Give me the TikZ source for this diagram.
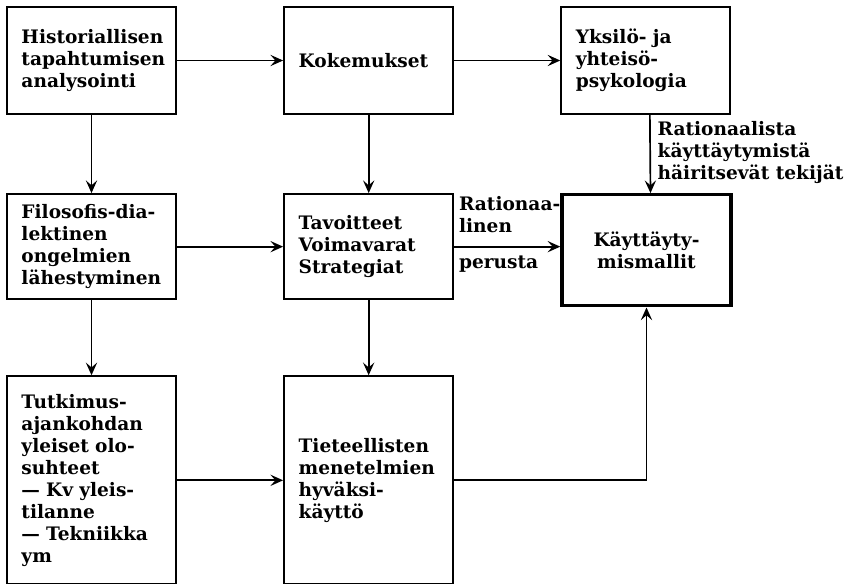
\documentclass[tikz,border=0pt]{standalone}
\usepackage{fontspec}
\setmainfont{DejaVu Serif}
\usetikzlibrary{positioning}
\usetikzlibrary{arrows.meta}

\begin{document}
\begin{tikzpicture}[x=0.025cm, y=-0.025cm,
  txt/.style={font=\bfseries\fontsize{13.2}{15.6}\selectfont},
  box/.style={txt, draw, line width=1.5pt, minimum width=4.225cm, text width=3.5cm, inner xsep=0.36cm, align=left},
  arr/.style={-{Stealth[length=9pt, width=8pt, inset=3.5pt]}, line width=1.2pt}]
\useasboundingbox (0,0) rectangle (855,584);

\node(a)[box, minimum height=2.675cm] at (91.5,60.5) {Historiallisen\\tapahtumisen\\analysointi};
\node(b)[box, minimum height=2.675cm, right=2.65cm of a] {Kokemukset};
\node(c)[box, minimum height=2.675cm, right=2.65cm of b] {Yksilö- ja\\yhteisö-\\psykologia};

\node(d)[box, minimum height=2.625cm, below=1.95cm of a] {Filosofis-dia-\\lektinen\\ongelmien\\lähestyminen};
\node(e)[box, minimum height=2.625cm, below=1.95cm of b] {Tavoitteet\\Voimavarat\\Strategiat};
\node(f)[box, minimum height=2.775cm, line width=2.4pt, align=center, right=2.65cm of e.north east, anchor=north west] {Käyttäyty-\\mismallit};

\node(g)[box, minimum height=5.2cm, below=1.875cm of d] {Tutkimus-\\ajankohdan\\yleiset olo-\\suhteet\\--- Kv yleis-\\tilanne\\--- Tekniikka\\ym};
\node(h)[box, minimum height=5.2cm, below=1.875cm of e] {Tieteellisten\\menetelmien\\hyväksi-\\käyttö};

\draw[arr] (a.east)--(b.west);
\draw[arr] (b.east)--(c.west);
\draw[arr] (a.south)--(d.north);
\draw[arr] (b.south)--(e.north);
\draw[arr] (d.east)--(e.west);
\draw[arr] (d.south)--(g.north);
\draw[arr] (e.south)--(h.north);
\draw[arr] (g.east)--(h.west);

\draw[arr] ([xshift=.1cm]c.south)--([xshift=.1cm]f.north)
  node(r)[txt, midway, right, align=left, xshift=.05cm, yshift=.05cm] {Rationaalista\\käyttäytymistä\\häiritsevät tekijät};
\draw[arr] (e.east)--(e.east -| f.west)
  node(p)[txt, pos=0, above right, align=left, inner xsep=.1cm, yshift=.2cm] {Rationaa-\\linen}
  node(q)[txt, pos=0, below right, inner xsep=.1cm, yshift=-.1cm] {perusta};
\draw[arr] (h.east) -| (f.south);
\end{tikzpicture}
\end{document}
